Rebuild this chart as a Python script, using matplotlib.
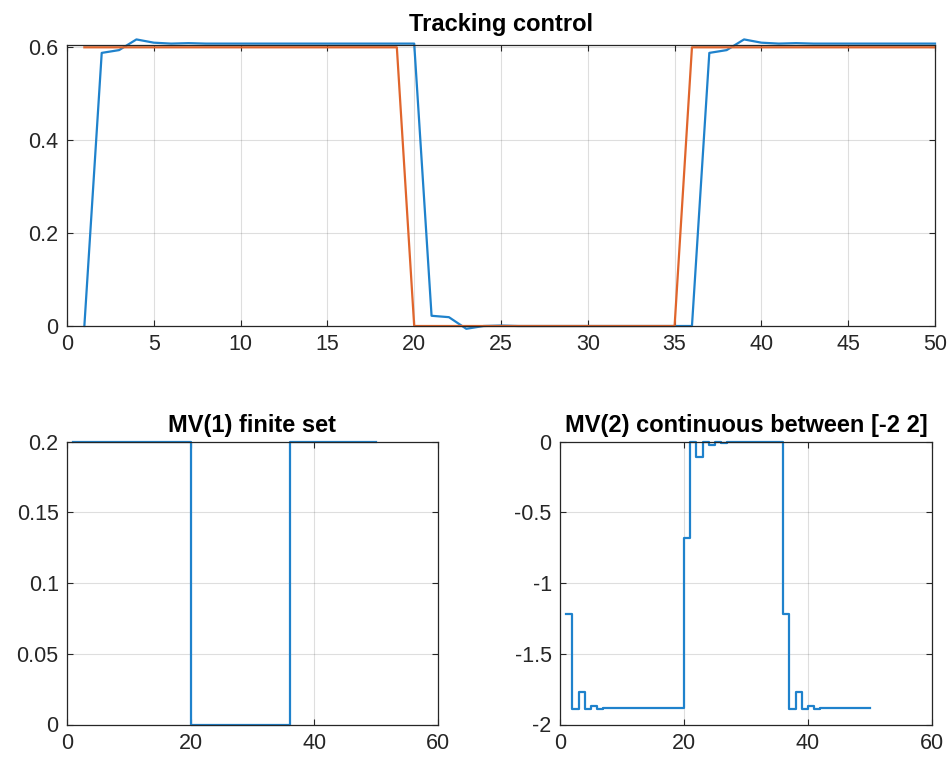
import matplotlib
matplotlib.use("Agg")
import matplotlib.pyplot as plt

plt.rcParams['font.family'] = ['Liberation Sans', 'DejaVu Sans']
plt.rcParams['axes.unicode_minus'] = False

# tid
t = list(range(1, 51))

# referens (orange)
ref = [0.6] * 19 + [0.0] * 16 + [0.6] * 15

# utsignal (blå)
y_out = [0.0, 0.588, 0.594, 0.617, 0.61, 0.608, 0.609, 0.608, 0.608, 0.608,
         0.608, 0.608, 0.608, 0.608, 0.608, 0.608, 0.608, 0.608, 0.608, 0.608,
         0.022, 0.019, -0.006, 0.0, 0.001, 0.0, 0.0, 0.0, 0.0, 0.0,
         0.0, 0.0, 0.0, 0.0, 0.0, 0.0, 0.588, 0.594, 0.617, 0.61,
         0.608, 0.609, 0.608, 0.608, 0.608, 0.608, 0.608, 0.608, 0.608, 0.608]

# MV(1) ändlig mängd
mv1 = [0.2] * 19 + [0.0] * 16 + [0.2] * 15

# MV(2) kontinuerlig
mv2 = [-1.22, -1.89, -1.77, -1.89, -1.87, -1.89, -1.88] + [-1.885] * 12 + \
      [-0.68, 0.0, -0.11, 0.0, -0.024, 0.0, -0.01] + [0.0] * 9 + \
      [-1.22, -1.89, -1.77, -1.89, -1.87, -1.89, -1.88] + [-1.885] * 8

blue = '#1f82cc'
orange = '#e0652c'
dark = '#262626'

fig = plt.figure(figsize=(9.51, 7.61), dpi=100)
ax1 = fig.add_axes([67/951, 1-326/761, 868/951, 281/761])
ax2 = fig.add_axes([67/951, 1-724.5/761, 371/951, 282.8/761])
ax3 = fig.add_axes([560/951, 1-724.5/761, 372/951, 282.8/761])


def style(ax):
    ax.grid(True, color=dark, alpha=0.15, lw=0.8)
    ax.tick_params(direction='in', top=True, right=True, labelsize=15.5,
                   colors=dark, length=4, pad=6)
    for s in ax.spines.values():
        s.set_color(dark)
        s.set_linewidth(0.9)
    ax.set_axisbelow(True)


ax1.plot(t, y_out, color=blue, lw=1.6, clip_on=False)
ax1.plot(t, ref, color=orange, lw=1.6, clip_on=False)
ax1.set_xlim(0, 50)
ax1.set_ylim(0, 0.605)
ax1.set_xticks(range(0, 51, 5))
ax1.set_yticks([0, 0.2, 0.4, 0.6])
ax1.set_yticklabels(['0', '0.2', '0.4', '0.6'])
ax1.set_title('Tracking control', fontsize=17, fontweight='bold', pad=10)
style(ax1)

ax2.step(t, mv1, where='post', color=blue, lw=1.6, clip_on=False)
ax2.set_xlim(0, 60)
ax2.set_ylim(0, 0.2)
ax2.set_xticks([0, 20, 40, 60])
ax2.set_yticks([0, 0.05, 0.1, 0.15, 0.2])
ax2.set_yticklabels(['0', '0.05', '0.1', '0.15', '0.2'])
ax2.set_title('MV(1) finite set', fontsize=17, fontweight='bold', pad=7)
style(ax2)

ax3.step(t, mv2, where='post', color=blue, lw=1.6, clip_on=False)
ax3.set_xlim(0, 60)
ax3.set_ylim(-2, 0)
ax3.set_xticks([0, 20, 40, 60])
ax3.set_yticks([-2, -1.5, -1, -0.5, 0])
ax3.set_yticklabels(['-2', '-1.5', '-1', '-0.5', '0'])
ax3.set_title('MV(2) continuous between [-2 2]', fontsize=17,
              fontweight='bold', pad=7)
style(ax3)

fig.savefig('out.png', dpi=100)
